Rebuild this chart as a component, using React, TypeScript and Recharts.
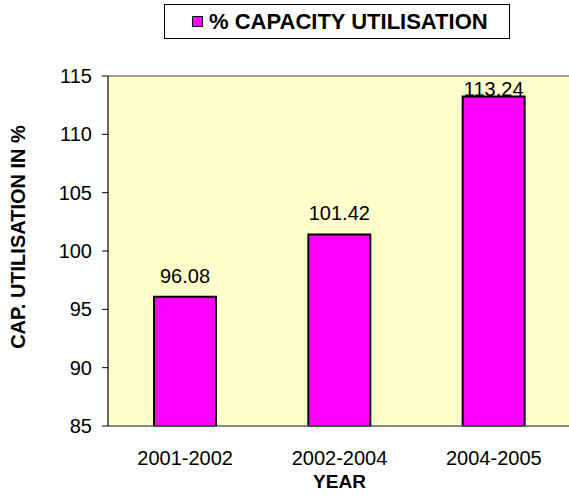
import React from 'react';
import {
    BarChart,
    Bar,
    XAxis,
    YAxis,
    CartesianGrid,
    Legend,
    LabelList,
    ReferenceLine,
} from 'recharts';

// data
const years = ['2001-2002', '2002-2004', '2004-2005'];
const capacityUtilisation = [96.08, 101.42, 113.24];
const yTicks = [85, 90, 95, 100, 105, 110, 115];

const chartData = years.map((year, i) => ({ year, value: capacityUtilisation[i] }));

const FONT = 'Arial, "Liberation Sans", Helvetica, sans-serif';

// legend drawn as a boxed item like the Excel original
const LegendBox = () => (
    <div
        style={{
            boxSizing: 'border-box',
            width: 346,
            height: 35,
            border: '1px solid #000',
            background: '#fff',
            display: 'flex',
            alignItems: 'center',
            paddingLeft: 27,
            fontFamily: FONT,
            fontWeight: 700,
            fontSize: 22,
            color: '#000',
        }}
    >
        <span
            style={{
                display: 'inline-block',
                width: 9,
                height: 9,
                background: '#FF00FF',
                border: '1px solid #000',
                marginRight: 6,
            }}
        />
        <span>% CAPACITY UTILISATION</span>
    </div>
);

// value label above a bar, kept inside the plot area near the top
const ValueLabel = (props: any) => {
    const { x, y, width, value } = props;
    const ty = Math.max(y - 14, 96);
    return (
        <text
            x={x + width / 2}
            y={ty}
            textAnchor="middle"
            fontFamily={FONT}
            fontSize={20}
            fill="#000"
        >
            {value}
        </text>
    );
};

export default function App() {
    return (
        <div style={{ position: 'absolute', left: 0, top: 0, width: 569, height: 497, background: '#fff' }}>
            <BarChart
                width={569}
                height={497}
                data={chartData}
                margin={{ top: 76, right: -2, left: 0, bottom: 0 }}
                barSize={62}
            >
                <CartesianGrid fill="#FFFFCC" horizontal={false} vertical={false} />
                <ReferenceLine y={115} stroke="#808080" strokeWidth={1.5} />
                <XAxis
                    dataKey="year"
                    height={71}
                    stroke="#606060"
                    strokeWidth={1.5}
                    tickLine={false}
                    tickSize={0}
                    tickMargin={25}
                    tick={{ fontFamily: FONT, fontSize: 20, fill: '#000' }}
                    label={(p: any) => {
                        const vb = p.viewBox;
                        return (
                            <text
                                x={vb.x + vb.width / 2}
                                y={488}
                                textAnchor="middle"
                                fontFamily={FONT}
                                fontWeight={700}
                                fontSize={19}
                                fill="#000"
                            >
                                YEAR
                            </text>
                        );
                    }}
                />
                <YAxis
                    type="number"
                    domain={[85, 115]}
                    ticks={yTicks}
                    width={108}
                    stroke="#333"
                    strokeWidth={1.5}
                    tickSize={6}
                    tickMargin={10}
                    tickLine={{ stroke: '#000', strokeWidth: 1 }}
                    tick={{ fontFamily: FONT, fontSize: 20, fill: '#000' }}
                    label={() => {
                        const cy = 237;
                        return (
                            <text
                                x={25}
                                y={cy}
                                transform={`rotate(-90, 25, ${cy})`}
                                textAnchor="middle"
                                fontFamily={FONT}
                                fontWeight={700}
                                fontSize={20}
                                fill="#000"
                            >
                                CAP. UTILISATION IN %
                            </text>
                        );
                    }}
                />
                <Legend
                    layout="vertical"
                    align="center"
                    verticalAlign="middle"
                    wrapperStyle={{ top: 4, left: 164, width: 346 }}
                    content={() => <LegendBox />}
                />
                <Bar
                    dataKey="value"
                    name="% CAPACITY UTILISATION"
                    fill="#FF00FF"
                    stroke="#000"
                    strokeWidth={2}
                    isAnimationActive={false}
                >
                    <LabelList dataKey="value" content={<ValueLabel />} />
                </Bar>
            </BarChart>
        </div>
    );
}
